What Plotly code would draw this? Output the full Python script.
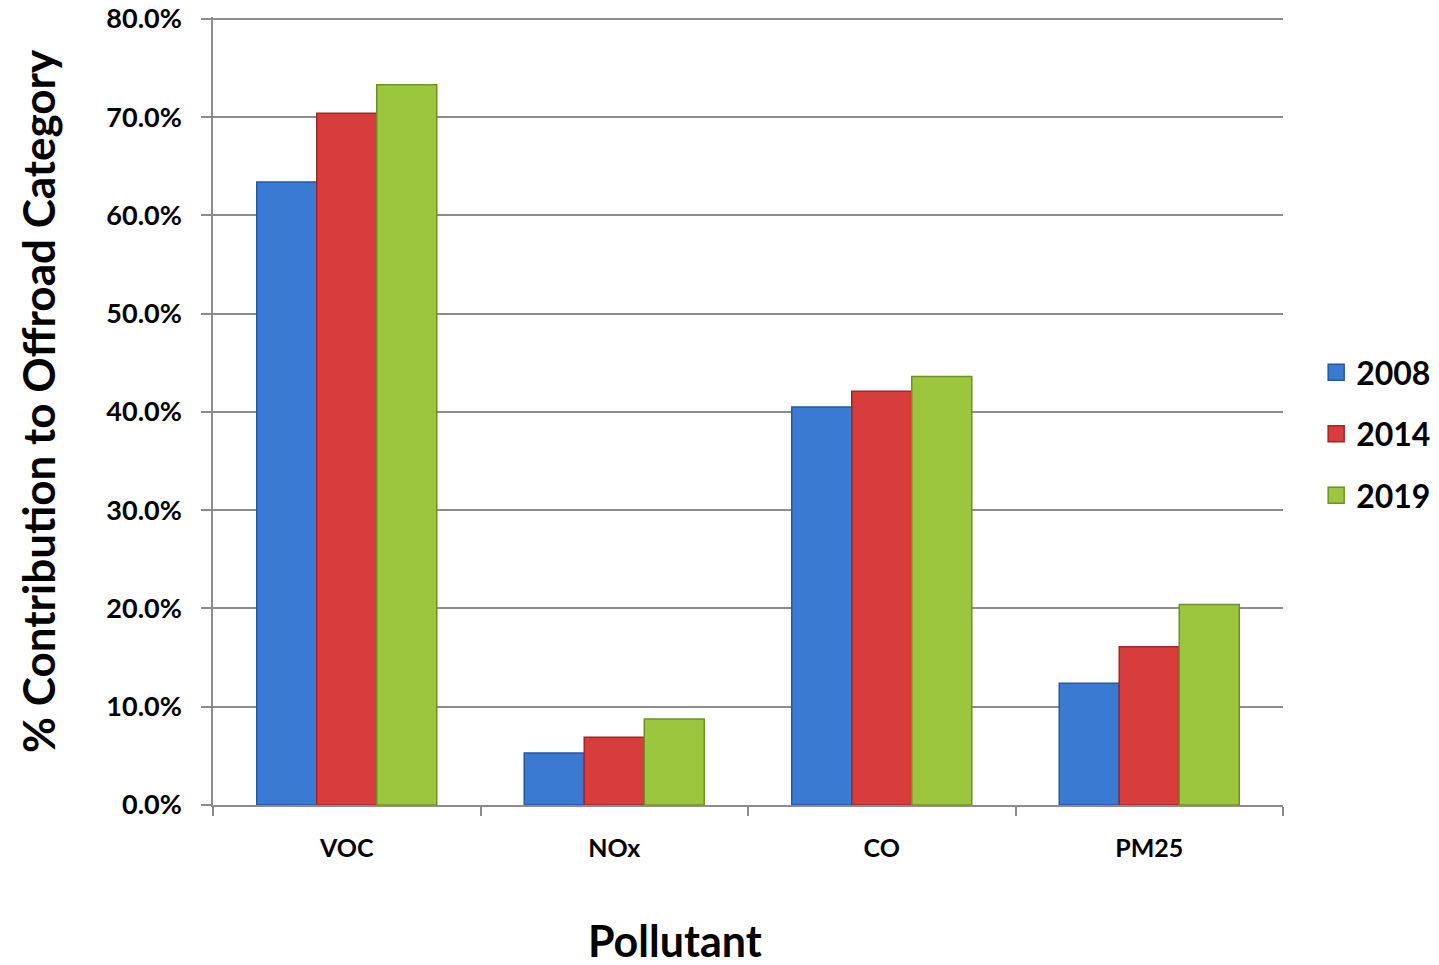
import plotly.graph_objects as go

categories = ["VOC", "NOx", "CO", "PM25"]
years = ["2008", "2014", "2019"]
v2008 = [0.634, 0.053, 0.405, 0.124]
v2014 = [0.704, 0.069, 0.421, 0.161]
v2019 = [0.733, 0.0875, 0.436, 0.204]
tick_vals = [0, 0.1, 0.2, 0.3, 0.4, 0.5, 0.6, 0.7, 0.8]

series = [v2008, v2014, v2019]
fills = ["#3b7ad3", "#d73d3d", "#9cc63e"]
edges = ["#24589f", "#a02727", "#6e9126"]

FONT = "Lato"
fig = go.Figure()
for name, vals, fc, ec in zip(years, series, fills, edges):
    fig.add_trace(go.Bar(
        x=categories, y=vals, name=name, showlegend=False,
        marker=dict(color=fc, line=dict(color=ec, width=1.5)),
    ))
# legend entries with larger square symbols
for name, fc, ec in zip(years, fills, edges):
    fig.add_trace(go.Scatter(
        x=[None], y=[None], name=name, mode="markers", legendgroup=name,
        marker=dict(symbol="square", size=22, color=fc, line=dict(color=ec, width=1.5)),
    ))

fig.update_layout(
    width=1439, height=965,
    margin=dict(l=205, r=164, t=9, b=168),
    paper_bgcolor="white", plot_bgcolor="white",
    barmode="group", bargap=0.327, bargroupgap=0,
    font=dict(family=FONT, color="black"),
    legend=dict(
        x=1.031, y=0.471, xanchor="left", yanchor="middle",
        font=dict(size=32, family=FONT, weight="bold"),
        tracegroupgap=17, itemwidth=30,
    ),
    xaxis=dict(
        automargin=False,
        showline=True, linecolor="#8c8c8c", linewidth=1.5,
        ticks="outside", tickson="boundaries", ticklen=9, tickcolor="#8c8c8c", tickwidth=1.5,
        tickfont=dict(size=25, family=FONT, weight="bold"),
        ticklabelstandoff=20,
    ),
    yaxis=dict(
        automargin=False,
        range=[0, 0.802], tickvals=tick_vals, tickformat=".1%",
        showline=True, linecolor="#8c8c8c", linewidth=1.5,
        ticks="outside", ticklen=10, tickcolor="#8c8c8c", tickwidth=1.5,
        showgrid=True, gridcolor="#8c8c8c", gridwidth=1.5,
        zeroline=False,
        tickfont=dict(size=27, family=FONT, weight="bold"),
        ticklabelstandoff=14, ticklabeloverflow="allow",
    ),
    annotations=[
        dict(text="Pollutant", xref="paper", yref="paper", x=0.432, y=-0.1715,
             xanchor="center", yanchor="middle", showarrow=False,
             font=dict(size=43, family=FONT, weight="bold")),
        dict(text="% Contribution to Offroad Category", xref="paper", yref="paper",
             x=-0.1636, y=0.5127, xanchor="center", yanchor="middle", textangle=-90,
             showarrow=False, font=dict(size=44, family=FONT, weight="bold")),
    ],
)

fig.write_html("out.html")
